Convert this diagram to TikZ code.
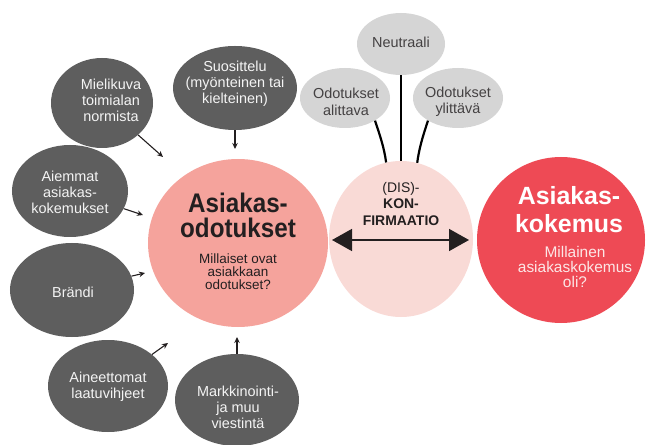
\documentclass[tikz,border=0pt]{standalone}
\usepackage{fontspec}
\setmainfont{Liberation Sans}
\newfontfamily\condfont{Liberation Sans}[FakeStretch=0.9]
\usetikzlibrary{shapes.geometric,arrows.meta}

\definecolor{salmon}{HTML}{F5A39C}
\definecolor{blush}{HTML}{F9DAD6}
\definecolor{coral}{HTML}{EE4A55}
\definecolor{slate}{HTML}{5E5E5E}
\definecolor{mist}{HTML}{D5D5D5}
\definecolor{ink}{HTML}{231F20}
\definecolor{paper}{HTML}{F4F4F4}
\definecolor{rosewhite}{HTML}{FCE6E6}

\begin{document}
\begin{tikzpicture}[x=1bp,y=-1bp,
  blob/.style={ellipse, inner sep=0pt, draw=none},
  factor/.style={blob, fill=slate},
  outcome/.style={blob, fill=mist},
  ftext/.style={align=center, text=paper, inner sep=0pt,
    font=\fontsize{14.5}{16}\selectfont},
  otext/.style={align=center, text=ink!85, inner sep=0pt,
    font=\fontsize{14.5}{16.5}\selectfont},
  feed/.style={draw=ink, line width=1.1pt, -{Stealth[length=6bp,width=5.5bp]}},
  tie/.style={draw=black, line width=2.2pt},
  compare/.style={draw=ink, line width=1.6pt,
    {Triangle[length=20bp,width=22bp]}-{Triangle[length=20bp,width=22bp]}},
]
\path[use as bounding box] (0,0) rectangle (648,445);

% main circles
\node[blob, fill=salmon, minimum width=180bp, minimum height=168bp] (expect) at (238,243) {};
\node[blob, fill=blush, minimum width=144bp, minimum height=156bp] (confirm) at (401,239) {};
\node[blob, fill=coral, minimum width=168bp, minimum height=166bp] (experience) at (561,240) {};

% outcomes of the comparison
\node[outcome, minimum width=88bp, minimum height=62bp] (neutral) at (401,44) {};
\node[outcome, minimum width=90bp, minimum height=60bp] (below) at (345,98) {};
\node[outcome, minimum width=90bp, minimum height=60bp] (above) at (458,98) {};

% factors shaping expectations
\node[factor, minimum width=102bp, minimum height=90bp] (mielikuva) at (102,103) {};
\node[factor, minimum width=124bp, minimum height=84bp] (suosittelu) at (235,88) {};
\node[factor, minimum width=116bp, minimum height=92bp] (aiemmat) at (70,191) {};
\node[factor, minimum width=124bp, minimum height=94bp] (brandi) at (72,290) {};
\node[factor, minimum width=120bp, minimum height=92bp] (aineettomat) at (108,386) {};
\node[factor, minimum width=124bp, minimum height=92bp] (markkinointi) at (237,400) {};

% factor labels
\node[ftext] (mielikuva-t) at (111,100) {Mielikuva\\toimialan\\normista};
\node[ftext] (suosittelu-t) at (235,84) {Suosittelu\\(myönteinen tai\\kielteinen)};
\node[ftext] (aiemmat-t) at (70,192) {Aiemmat\\asiakas-\\kokemukset};
\node[ftext] (brandi-t) at (73,292) {Brändi};
\node[ftext] (aineettomat-t) at (108,387) {Aineettomat\\laatuvihjeet};
\node[ftext] (markkinointi-t) at (238,407) {Markkinointi-\\ja muu\\viestintä};

% outcome labels
\node[otext] (neutral-t) at (401,42) {Neutraali};
\node[otext] (below-t) at (346,102) {Odotukset\\alittava};
\node[otext] (above-t) at (458,102) {Odotukset\\ylittävä};

% circle texts
\node[align=center, inner sep=0pt, text=ink,
  font=\condfont\bfseries\fontsize{27}{25}\selectfont] (expect-t) at (238,215) {Asiakas-\\odotukset};
\node[align=center, inner sep=0pt, text=ink,
  font=\fontsize{13.5}{13}\selectfont] (expect-q) at (238,272) {Millaiset ovat\\asiakkaan\\odotukset?};
\node[align=center, inner sep=0pt, text=white,
  font=\bfseries\fontsize{25}{28}\selectfont] (experience-t) at (569,210) {Asiakas-\\kokemus};
\node[align=center, inner sep=0pt, text=rosewhite,
  font=\fontsize{15.5}{15}\selectfont] (experience-q) at (575,267) {Millainen\\asiakaskokemus\\oli?};
\node[align=center, inner sep=0pt, text=ink,
  font=\fontsize{14}{17}\selectfont] (confirm-t) at (401,204) {(DIS)-\\\textbf{KON-}\\\textbf{FIRMAATIO}};

% comparison arrow
\coordinate (cmp-l) at (332,240);
\coordinate (cmp-r) at (469,240);
\draw[compare] (cmp-l) -- (cmp-r);

% stems from the outcomes
\draw[tie] (neutral) -- (confirm);
\draw[tie] (below.-37) .. controls +(5,15) and +(-2,-15) .. (confirm.101);
\draw[tie] (above.-143) .. controls +(-5,15) and +(2,-15) .. (confirm.78);

% factor arrows
\coordinate (tip-mielikuva) at (163,157);
\coordinate (tip-suosittelu) at (235,149);
\coordinate (tip-aiemmat) at (143,215);
\coordinate (tip-brandi) at (145,273);
\coordinate (tip-aineettomat) at (168,343);
\coordinate (tip-markkinointi) at (237,337);
\draw[feed] (mielikuva) -- (tip-mielikuva);
\draw[feed] (suosittelu) -- (tip-suosittelu);
\draw[feed] (aiemmat) -- (tip-aiemmat);
\draw[feed] (brandi) -- (tip-brandi);
\draw[feed] (aineettomat) -- (tip-aineettomat);
\draw[feed] (markkinointi) -- (tip-markkinointi);
\end{tikzpicture}
\end{document}
